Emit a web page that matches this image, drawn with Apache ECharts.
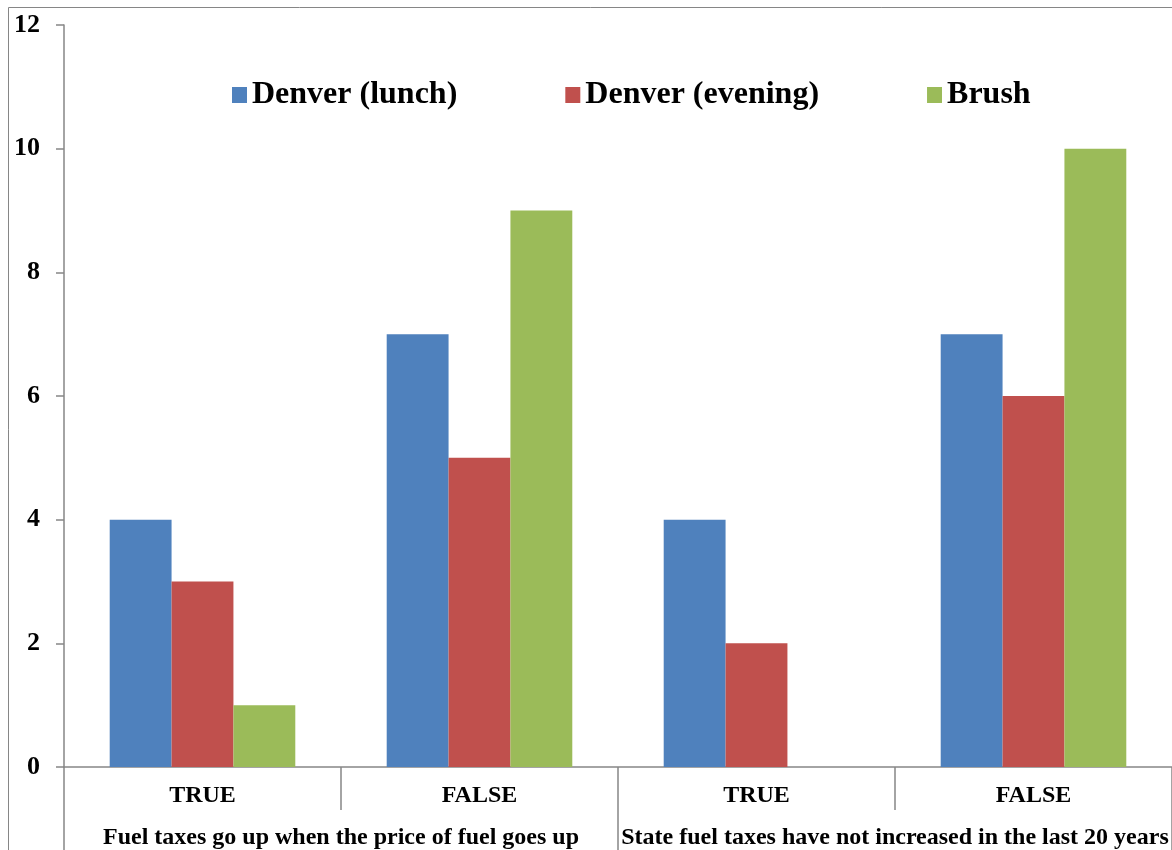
<!DOCTYPE html>
<html>
<head>
<meta charset="utf-8">
<script src="https://cdn.jsdelivr.net/npm/echarts@6/dist/echarts.min.js"></script>
<style>
  html, body { margin: 0; padding: 0; background: #ffffff; }
  #chart { width: 1172px; height: 850px; }
</style>
</head>
<body>
<div id="chart"></div>
<script>
// Answer categories and their question groups
const answers = ['TRUE', 'FALSE', 'TRUE', 'FALSE'];
const questions = [
  'Fuel taxes go up when the price of fuel goes up',
  'State fuel taxes have not increased in the last 20 years'
];

// Counts per audience
const denverLunch = [4, 7, 4, 7];
const denverEvening = [3, 5, 2, 6];
const brush = [1, 9, 0, 10];

const yTicks = [0, 2, 4, 6, 8, 10, 12];

const serif = "'Liberation Serif', 'Times New Roman', serif";
const axisGray = '#868686';

const chart = echarts.init(document.getElementById('chart'));

chart.setOption({
  animation: false,
  backgroundColor: '#ffffff',
  color: ['#4F81BD', '#C0504D', '#9BBB59'],
  graphic: [{
    type: 'rect',
    z: -10,
    shape: { x: 8.5, y: 7.5, width: 2000, height: 2000 },
    style: { fill: 'none', stroke: axisGray, lineWidth: 1 }
  }],
  legend: {
    left: 227,
    top: 74,
    itemWidth: 15,
    itemHeight: 16,
    itemGap: 108,
    icon: 'rect',
    textStyle: { fontFamily: serif, fontWeight: 'bold', fontSize: 32, color: '#000' }
  },
  grid: { left: 64, right: 0, top: 25, bottom: 83, containLabel: false },
  xAxis: [{
    type: 'category',
    data: answers,
    position: 'bottom',
    axisLine: { show: true, lineStyle: { color: axisGray, width: 1.5 } },
    axisTick: { show: true, interval: 0, length: 43, lineStyle: { color: axisGray, width: 1.5 } },
    axisLabel: { interval: 0, margin: 17, fontFamily: serif, fontWeight: 'bold', fontSize: 24, color: '#000' },
    splitLine: { show: false }
  }, {
    type: 'category',
    data: questions,
    position: 'bottom',
    offset: 0,
    axisLine: { show: false },
    axisTick: { show: true, interval: 0, length: 83, lineStyle: { color: axisGray, width: 1.5 } },
    axisLabel: { interval: 0, margin: 59, fontFamily: serif, fontWeight: 'bold', fontSize: 24, color: '#000' },
    splitLine: { show: false }
  }],
  yAxis: {
    type: 'value',
    min: yTicks[0],
    max: yTicks[yTicks.length - 1],
    interval: 2,
    axisLine: { show: true, lineStyle: { color: axisGray, width: 1.5 } },
    axisTick: { show: true, length: 8, lineStyle: { color: axisGray, width: 1.5 } },
    axisLabel: { margin: 24, fontFamily: serif, fontWeight: 'bold', fontSize: 26, color: '#000' },
    splitLine: { show: false }
  },
  series: [
    { name: 'Denver (lunch)', type: 'bar', data: denverLunch, barGap: '0%', barCategoryGap: '33%' },
    { name: 'Denver (evening)', type: 'bar', data: denverEvening, barGap: '0%', barCategoryGap: '33%' },
    { name: 'Brush', type: 'bar', data: brush, barGap: '0%', barCategoryGap: '33%' }
  ]
});
</script>
</body>
</html>
